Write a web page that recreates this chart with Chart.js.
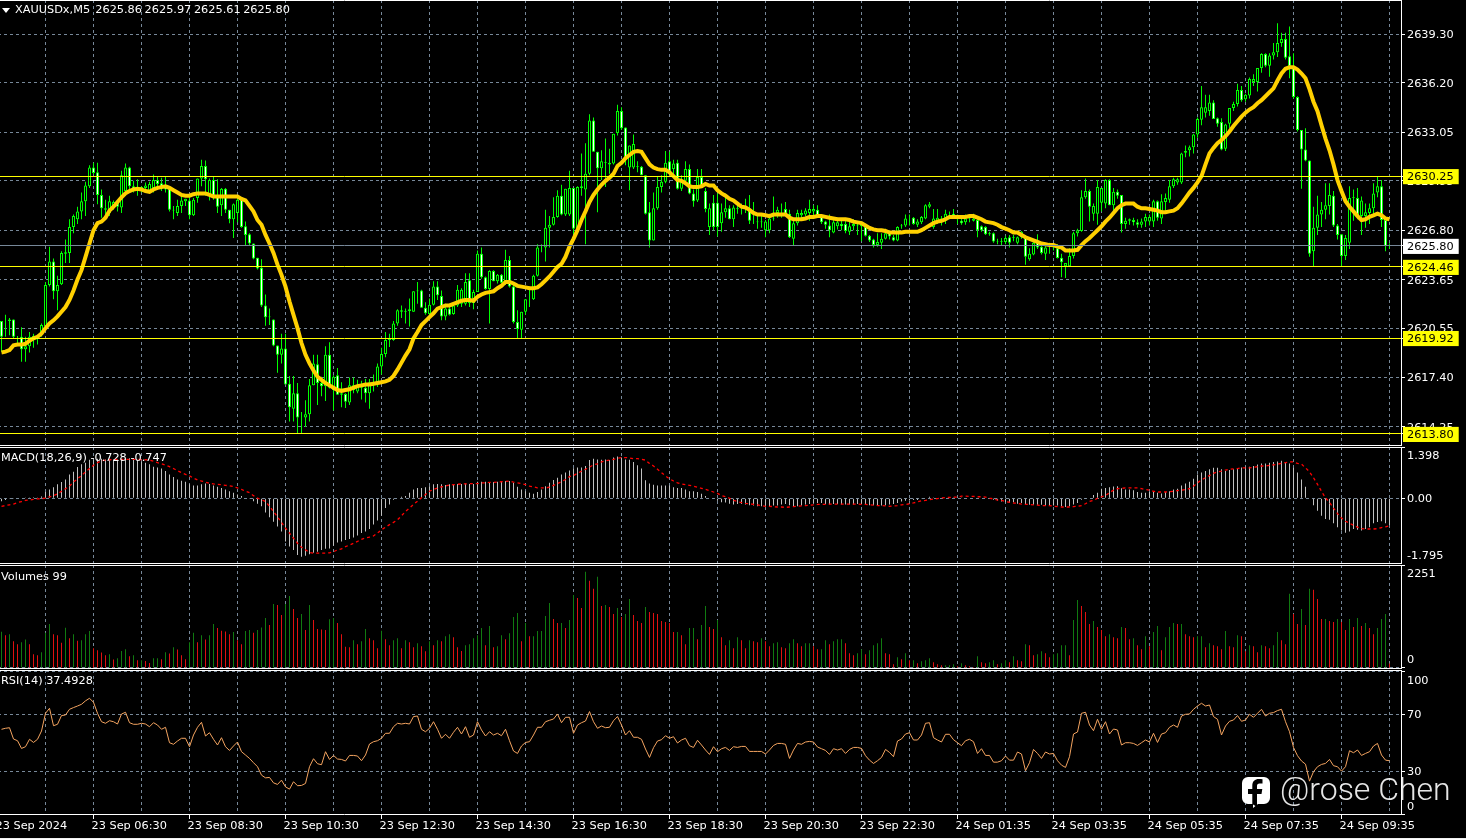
<!DOCTYPE html>
<html>
<head>
<meta charset="utf-8">
<title>XAUUSDx,M5</title>
<script src="https://cdn.jsdelivr.net/npm/chart.js@4/dist/chart.umd.js"></script>
<style>
html, body { margin: 0; padding: 0; background: #000; overflow: hidden; }
body { width: 1466px; height: 839px; position: relative; }
canvas { position: absolute; left: -8px; }
.txt { position: absolute; color: #fff; font: 11.3px "DejaVu Sans", sans-serif; white-space: pre; line-height: 14px; }
#tri { position: absolute; left: 2px; top: 8px; width: 0; height: 0; border-left: 4px solid transparent; border-right: 4px solid transparent; border-top: 5px solid #fff; }
#mark { position: absolute; left: 1280px; top: 770px; color: rgba(255,255,255,.9); font: 300 32px Roboto, sans-serif; white-space: pre; }
#fb { position: absolute; left: 1241px; top: 776px; }
#edge { position: absolute; left: 0; top: 838px; width: 1466px; height: 1px; background: #f0f0f0; }
</style>
</head>
<body>
<canvas id="cMain" width="1474" height="446" style="top:0"></canvas>
<canvas id="cMacd" width="1474" height="117" style="top:447px"></canvas>
<canvas id="cVol" width="1474" height="104" style="top:565px"></canvas>
<canvas id="cRsi" width="1474" height="169" style="top:670px"></canvas>
<div id="tri"></div>
<div class="txt" style="left:15px;top:3px;word-spacing:-1px">XAUUSDx,M5  2625.86 2625.97 2625.61 2625.80</div>
<div class="txt" style="left:1px;top:451px">MACD(18,26,9) -0.728 -0.747</div>
<div class="txt" style="left:1px;top:570px">Volumes 99</div>
<div class="txt" style="left:1px;top:674px">RSI(14) 37.4928</div>
<svg id="fb" width="30" height="32" viewBox="0 0 30 32">
<path fill="#fff" d="M7 1h16a6 6 0 0 1 6 6v15a6 6 0 0 1-6 6h-6l-5 4v-4H7a6 6 0 0 1-6-6V7a6 6 0 0 1 6-6z"/>
<path fill="#000" d="M16 31V18h4.5l.8-5H16v-3c0-1.500.7-2.500 2.600-2.500H21.500V3.300C20.500 3.100 19 3 17.800 3 14 3 11.300 5.200 11.300 9.500V13H7v5h4.300v10z"/>
</svg>
<div id="mark">@rose Chen</div>
<div id="edge"></div>

<script>
// candles, one row = 12 bars = 1 hour
var opens = [
2621.0,2621.0,2621.0,2621.1,2620.0,2620.0,2619.2,2619.4,2619.8,2620.0,2620.2,2620.65,
2623.3,2624.8,2622.9,2623.35,2625.3,2625.35,2627.0,2627.5,2628.0,2628.65,2629.6,2630.8,
2630.5,2629.05,2628.2,2627.9,2628.25,2628.6,2628.25,2629.3,2630.8,2629.6,2629.4,2629.4,
2629.5,2629.3,2629.5,2630.0,2629.8,2629.65,2629.5,2628.1,2627.9,2628.35,2628.65,2628.7,
2627.75,2628.85,2630.1,2630.9,2629.0,2630.0,2629.0,2628.4,2629.45,2628.1,2627.5,2627.9,
2628.75,2627.05,2626.55,2625.95,2625.05,2624.4,2622.0,2621.25,2621.1,2619.45,2618.85,2619.25,
2617.0,2615.4,2616.4,2614.85,2614.85,2615.05,2616.9,2618.25,2617.05,2616.85,2618.85,2616.6,
2617.55,2616.4,2616.35,2615.8,2616.6,2616.5,2616.9,2616.75,2616.4,2617.1,2617.0,2618.1,
2618.9,2619.8,2619.8,2620.85,2621.7,2621.6,2621.65,2621.6,2622.9,2622.95,2621.85,2621.45,
2622.05,2623.2,2622.6,2621.3,2621.8,2621.45,2622.0,2622.1,2622.1,2623.6,2622.15,2622.85,
2625.3,2623.8,2623.05,2624.2,2623.55,2623.95,2623.45,2624.9,2623.2,2620.95,2620.45,2621.6,
2622.4,2622.4,2623.9,2625.7,2625.7,2626.95,2627.15,2627.65,2629.0,2627.8,2627.8,2629.5,
2626.9,2629.5,2629.4,2630.4,2633.8,2631.8,2630.75,2631.1,2631.1,2631.05,2633.0,2634.4,
2633.35,2630.8,2630.8,2630.85,2630.85,2630.3,2627.95,2626.15,2628.2,2629.55,2629.9,2631.2,
2630.7,2631.1,2629.45,2629.95,2630.7,2629.15,2628.7,2630.2,2629.3,2627.0,2628.55,2628.55,
2627.25,2627.95,2628.2,2627.5,2628.15,2628.15,2628.2,2628.05,2627.4,2627.35,2627.3,2626.8,
2626.8,2627.55,2627.9,2628.0,2628.15,2627.85,2626.25,2627.25,2627.75,2627.8,2627.9,2628.0,
2628.1,2627.75,2627.35,2627.1,2626.65,2627.05,2627.2,2627.2,2626.7,2627.05,2627.1,2627.05,
2627.0,2626.45,2626.2,2625.85,2626.0,2626.25,2626.6,2626.35,2626.15,2627.05,2627.1,2627.55,
2627.6,2627.15,2627.3,2627.55,2628.3,2627.0,2627.4,2627.45,2627.45,2627.85,2627.85,2627.5,
2627.4,2627.3,2627.55,2627.4,2627.45,2627.05,2627.0,2626.55,2626.6,2626.08,2626.05,2626.05,
2626.35,2626.3,2626.0,2626.35,2626.3,2624.95,2625.25,2626.0,2625.75,2625.3,2625.7,2625.7,
2625.65,2625.05,2624.5,2624.5,2625.15,2626.6,2626.75,2628.9,2629.3,2627.85,2627.85,2628.55,
2628.5,2630.0,2628.4,2629.25,2629.05,2627.2,2627.4,2627.45,2627.3,2627.15,2627.35,2627.35,
2627.35,2628.65,2627.55,2628.6,2628.75,2629.6,2629.85,2629.85,2631.75,2631.9,2632.1,2632.9,
2633.85,2634.3,2634.4,2634.95,2633.95,2633.7,2632.0,2633.6,2634.6,2634.85,2635.75,2635.15,
2635.4,2636.25,2636.25,2637.15,2638.05,2637.3,2637.95,2638.15,2638.75,2639.0,2637.9,2637.25,
2635.3,2633.2,2631.95,2631.25,2625.45,2626.95,2627.8,2628.1,2628.35,2629.0,2627.1,2626.55,
2625.15,2626.0,2628.85,2628.85,2627.7,2627.7,2627.9,2628.2,2629.2,2629.6,2627.45,2625.86];
var highs = [
2621.0,2621.4,2621.2,2621.1,2620.05,2620.6,2620.0,2620.3,2620.2,2620.1,2620.85,2623.5,
2625.75,2625.0,2623.9,2625.45,2626.2,2627.5,2627.8,2628.3,2629.2,2629.9,2630.95,2631.1,
2631.1,2629.4,2628.75,2629.0,2628.7,2628.7,2630.6,2631.05,2630.85,2629.95,2630.05,2629.6,
2629.85,2629.9,2630.35,2630.25,2630.15,2630.25,2629.5,2628.35,2628.75,2629.0,2628.8,2629.0,
2628.85,2630.1,2631.3,2631.25,2630.1,2630.25,2630.05,2629.5,2629.5,2628.1,2628.5,2628.9,
2628.9,2627.35,2626.6,2625.95,2625.05,2624.95,2622.7,2621.8,2621.1,2619.45,2620.2,2620.2,
2617.5,2617.5,2617.05,2615.2,2615.95,2617.3,2618.85,2618.85,2617.45,2619.4,2619.65,2617.55,
2618.0,2617.1,2616.4,2617.4,2617.4,2617.25,2617.2,2617.3,2617.3,2617.6,2618.3,2619.3,
2620.3,2620.2,2621.0,2621.75,2622.0,2621.8,2622.45,2622.9,2623.5,2623.0,2622.2,2622.45,
2623.55,2623.55,2622.95,2622.1,2622.0,2622.1,2623.3,2623.1,2624.05,2624.05,2623.0,2625.5,
2625.7,2623.85,2624.25,2624.25,2624.0,2624.0,2625.55,2625.15,2623.4,2621.7,2621.6,2622.4,
2623.2,2623.95,2625.9,2625.9,2628.1,2627.7,2628.9,2629.35,2629.7,2629.45,2630.6,2629.5,
2629.6,2631.7,2632.35,2634.2,2634.0,2631.8,2631.9,2632.65,2632.0,2632.95,2634.8,2634.65,
2633.35,2632.2,2632.9,2631.2,2630.9,2630.3,2628.6,2629.2,2630.25,2630.3,2631.85,2631.8,
2631.3,2631.3,2630.3,2631.2,2631.0,2629.4,2630.7,2630.7,2629.5,2628.5,2629.05,2629.15,
2628.5,2629.15,2628.4,2628.4,2628.6,2628.5,2628.8,2629.05,2628.6,2627.8,2627.7,2627.45,
2627.85,2628.95,2628.3,2628.5,2628.6,2628.1,2627.55,2628.1,2628.1,2628.2,2628.75,2628.4,
2628.4,2627.8,2627.4,2627.8,2627.55,2627.6,2627.5,2627.4,2627.4,2627.5,2627.3,2627.35,
2627.1,2626.5,2626.25,2626.6,2626.6,2626.9,2626.8,2626.5,2627.05,2627.2,2627.8,2627.8,
2627.65,2627.5,2627.7,2628.45,2628.6,2628.15,2628.15,2627.7,2628.1,2628.0,2628.15,2627.8,
2627.6,2627.8,2627.7,2627.85,2627.55,2627.1,2627.05,2626.7,2626.65,2626.25,2626.3,2626.45,
2626.5,2626.5,2626.4,2626.75,2626.35,2625.65,2626.1,2626.55,2625.85,2625.95,2626.0,2625.9,
2625.9,2625.3,2624.7,2625.65,2626.7,2626.9,2629.35,2630.1,2629.4,2628.5,2630.0,2629.5,
2630.05,2630.05,2629.5,2629.4,2629.05,2627.6,2627.55,2627.6,2627.5,2627.55,2627.85,2627.8,
2628.75,2628.7,2629.1,2629.15,2630.0,2630.15,2630.15,2631.75,2632.2,2632.2,2632.95,2634.0,
2636.0,2635.45,2635.45,2635.1,2634.0,2633.95,2633.6,2634.6,2635.0,2636.15,2636.0,2635.5,
2636.55,2636.75,2637.15,2638.1,2638.1,2638.1,2638.75,2640.0,2639.4,2639.4,2639.8,2638.1,
2635.35,2633.2,2633.3,2631.25,2628.3,2629.0,2628.6,2629.8,2629.8,2629.3,2627.2,2626.55,
2626.5,2629.6,2629.4,2629.5,2628.95,2628.5,2628.5,2629.8,2630.25,2630.0,2627.45,2625.97];
var lows = [
2619.05,2620.0,2620.1,2619.9,2619.5,2618.4,2618.4,2619.0,2619.3,2619.5,2620.0,2620.65,
2623.2,2622.4,2621.7,2623.3,2624.7,2624.7,2626.6,2627.2,2627.5,2627.7,2629.5,2630.35,
2628.45,2627.6,2627.5,2627.7,2628.1,2628.0,2627.9,2629.0,2629.4,2629.2,2629.0,2629.2,
2629.2,2629.2,2629.2,2629.4,2629.3,2629.2,2628.0,2627.5,2627.7,2627.9,2628.35,2627.5,
2627.7,2628.55,2629.6,2629.0,2628.7,2628.75,2627.9,2627.7,2627.9,2627.25,2626.3,2627.3,
2626.95,2625.8,2625.85,2624.95,2624.3,2621.9,2620.7,2620.75,2619.4,2617.7,2618.3,2616.95,
2614.6,2614.6,2613.85,2613.85,2614.25,2614.6,2616.9,2615.65,2616.2,2615.9,2616.7,2615.3,
2616.3,2615.5,2615.45,2615.65,2616.4,2616.4,2616.0,2615.8,2615.4,2616.5,2616.8,2617.6,
2618.7,2619.35,2619.75,2620.7,2621.2,2620.85,2620.65,2621.6,2622.1,2621.85,2621.4,2621.4,
2622.0,2622.35,2621.05,2621.05,2621.35,2621.4,2621.9,2621.9,2622.0,2621.9,2621.75,2622.85,
2623.7,2623.0,2620.85,2623.55,2623.4,2623.4,2623.3,2623.15,2620.85,2619.9,2619.9,2621.4,
2621.9,2622.35,2623.85,2625.4,2624.8,2625.7,2627.1,2627.6,2627.75,2627.7,2627.7,2626.55,
2626.8,2629.0,2625.9,2630.3,2631.8,2627.95,2630.0,2629.55,2630.4,2631.0,2632.85,2633.2,
2630.95,2629.35,2630.7,2630.5,2630.3,2627.8,2625.7,2626.15,2628.1,2629.2,2629.8,2630.3,
2630.3,2629.4,2629.3,2629.8,2629.1,2628.3,2628.6,2629.5,2627.95,2626.5,2626.8,2626.4,
2626.7,2627.6,2627.5,2627.0,2627.85,2627.8,2627.9,2627.2,2627.2,2626.9,2626.95,2626.35,
2626.6,2627.4,2627.6,2627.6,2627.7,2626.3,2625.85,2627.1,2627.4,2627.7,2627.4,2627.7,
2627.6,2627.2,2626.9,2626.35,2626.6,2626.85,2626.8,2626.6,2626.5,2626.8,2626.5,2626.1,
2626.4,2626.05,2625.7,2625.75,2625.6,2626.2,2626.2,2626.1,2626.1,2626.9,2627.0,2627.1,
2627.15,2627.0,2627.2,2627.5,2628.2,2626.9,2627.2,2627.1,2627.2,2627.5,2627.55,2627.2,
2627.15,2627.15,2627.3,2627.35,2626.35,2626.7,2626.5,2626.45,2626.0,2625.9,2625.85,2625.9,
2625.7,2626.1,2625.9,2626.25,2624.6,2624.85,2625.2,2625.6,2625.25,2624.9,2625.3,2625.5,
2625.0,2623.8,2623.75,2624.45,2625.0,2626.4,2626.7,2628.8,2627.35,2627.4,2627.15,2628.0,
2628.2,2628.4,2627.9,2628.8,2626.65,2626.9,2627.15,2627.1,2626.95,2626.95,2627.0,2627.1,
2627.0,2627.4,2627.2,2628.0,2628.55,2629.5,2629.7,2629.75,2631.45,2631.5,2631.7,2632.7,
2633.5,2634.0,2634.1,2633.9,2633.4,2631.9,2631.85,2633.3,2634.4,2634.7,2635.0,2635.0,
2635.2,2636.0,2635.65,2636.85,2637.2,2636.6,2637.7,2637.85,2638.5,2637.7,2636.5,2635.2,
2633.1,2629.45,2631.2,2625.1,2624.5,2626.5,2627.0,2627.5,2627.8,2627.0,2626.2,2624.5,
2624.9,2625.6,2627.4,2627.5,2626.5,2626.95,2627.2,2627.7,2628.9,2627.0,2625.45,2625.61];
var closes = [
2620.0,2621.0,2621.1,2620.0,2620.0,2619.2,2619.4,2620.0,2620.05,2620.0,2620.75,2623.3,
2624.8,2622.9,2623.3,2625.35,2625.4,2627.0,2627.7,2628.0,2628.65,2629.65,2630.8,2630.45,
2629.05,2628.2,2628.1,2628.65,2628.6,2628.3,2630.3,2630.8,2629.6,2629.45,2629.4,2629.55,
2629.65,2629.75,2630.0,2629.75,2629.5,2629.4,2628.1,2628.05,2628.35,2628.7,2628.8,2627.75,
2628.75,2630.1,2630.9,2630.05,2630.0,2629.0,2628.3,2629.45,2628.1,2627.5,2628.45,2628.75,
2627.0,2626.5,2625.95,2625.0,2624.35,2622.0,2621.25,2621.3,2619.45,2618.85,2619.25,2616.95,
2615.5,2616.4,2614.85,2614.85,2615.05,2616.9,2618.3,2617.05,2616.85,2618.85,2616.75,2617.45,
2616.3,2616.3,2615.85,2616.9,2616.9,2616.9,2616.75,2616.4,2617.1,2617.0,2618.1,2618.9,
2619.8,2619.85,2620.85,2621.7,2621.6,2621.65,2621.75,2622.9,2622.95,2621.85,2621.5,2622.05,
2623.2,2622.65,2621.3,2621.8,2621.4,2622.0,2623.0,2623.0,2623.5,2622.15,2622.85,2625.3,
2623.8,2623.05,2624.2,2623.55,2623.95,2623.45,2624.9,2623.2,2620.95,2620.5,2621.6,2622.4,
2622.4,2623.9,2625.7,2625.7,2626.95,2627.15,2627.65,2629.0,2627.8,2629.45,2629.5,2626.9,
2629.55,2629.6,2630.4,2633.8,2631.8,2630.75,2631.2,2631.15,2631.0,2632.95,2634.4,2633.3,
2631.4,2632.2,2632.3,2630.9,2630.3,2627.85,2626.15,2628.2,2629.55,2629.9,2631.1,2630.4,
2631.05,2629.45,2629.95,2630.7,2629.15,2628.65,2630.2,2629.55,2628.15,2628.2,2627.0,2627.0,
2627.95,2628.2,2627.5,2628.25,2628.2,2628.15,2628.3,2627.4,2627.4,2627.3,2627.35,2627.35,
2627.55,2627.6,2628.1,2628.0,2627.85,2626.35,2627.25,2627.9,2627.9,2628.05,2628.15,2628.15,
2627.75,2627.3,2627.15,2626.8,2627.3,2627.3,2627.05,2626.75,2627.05,2627.2,2627.15,2627.2,
2626.45,2626.15,2625.85,2626.05,2626.25,2626.6,2626.4,2626.15,2627.0,2627.1,2627.55,2627.55,
2627.2,2627.35,2627.65,2628.4,2628.45,2627.55,2627.6,2627.55,2627.85,2627.85,2627.7,2627.65,
2627.25,2627.55,2627.6,2627.55,2626.8,2626.8,2626.55,2626.6,2626.08,2626.05,2626.1,2626.3,
2626.0,2626.35,2626.35,2626.7,2625.1,2625.3,2626.0,2625.7,2625.35,2625.7,2625.7,2625.75,
2625.03,2624.75,2624.7,2625.15,2626.6,2626.8,2628.9,2629.3,2628.3,2628.35,2629.55,2629.5,
2630.0,2628.4,2629.25,2629.0,2627.2,2627.4,2627.5,2627.3,2627.15,2627.35,2627.65,2627.65,
2628.65,2627.6,2628.65,2628.85,2629.6,2630.05,2630.05,2631.7,2631.85,2632.1,2632.9,2633.9,
2634.65,2634.65,2634.95,2633.9,2633.6,2631.95,2633.55,2634.6,2634.85,2635.75,2635.1,2635.45,
2636.45,2636.45,2637.15,2638.05,2637.3,2637.95,2638.15,2638.75,2639.0,2637.8,2637.25,2635.3,
2633.2,2631.95,2631.25,2625.3,2626.95,2627.8,2628.1,2628.4,2629.05,2627.1,2626.5,2625.15,
2626.3,2628.85,2628.9,2627.7,2628.7,2627.95,2628.2,2629.15,2629.6,2627.45,2625.8,2625.80];
// gold moving average
var maLine = [
2619.0,2619.05,2619.15,2619.45,2619.5,2619.5,2619.55,2619.75,2619.9,2620.0,2620.2,2620.55,
2620.85,2621.05,2621.3,2621.6,2621.9,2622.35,2622.95,2623.65,2624.25,2625.1,2625.95,2626.8,
2627.25,2627.35,2627.6,2628.05,2628.3,2628.6,2628.9,2629.15,2629.3,2629.4,2629.45,2629.4,
2629.3,2629.25,2629.4,2629.5,2629.55,2629.6,2629.5,2629.35,2629.2,2629.05,2629.0,2629.0,
2629.1,2629.15,2629.15,2629.15,2629.05,2628.95,2628.95,2628.95,2628.95,2628.95,2628.95,2628.95,
2628.8,2628.7,2628.35,2628.0,2627.45,2627.15,2626.5,2625.95,2625.35,2624.6,2623.95,2623.2,
2622.25,2621.4,2620.55,2619.6,2618.85,2618.3,2617.85,2617.45,2617.25,2617.05,2616.9,2616.75,
2616.6,2616.55,2616.6,2616.65,2616.75,2616.85,2616.9,2616.95,2616.95,2617.0,2617.05,2617.1,
2617.15,2617.25,2617.5,2617.9,2618.35,2618.8,2619.2,2619.9,2620.3,2620.75,2621.0,2621.25,
2621.5,2621.8,2621.9,2622.0,2622.0,2622.1,2622.2,2622.3,2622.35,2622.35,2622.3,2622.55,
2622.7,2622.8,2622.85,2622.9,2623.1,2623.25,2623.5,2623.5,2623.4,2623.25,2623.2,2623.15,
2623.1,2623.1,2623.15,2623.35,2623.6,2623.85,2624.15,2624.45,2624.65,2625.1,2625.75,2626.25,
2626.8,2627.45,2628.0,2628.6,2629.05,2629.4,2629.7,2629.95,2630.15,2630.4,2630.9,2631.1,
2631.4,2631.6,2631.8,2631.85,2631.8,2631.4,2631.0,2630.8,2630.7,2630.65,2630.65,2630.5,
2630.25,2630.0,2629.95,2629.8,2629.6,2629.55,2629.55,2629.6,2629.75,2629.65,2629.65,2629.35,
2629.15,2629.0,2628.8,2628.7,2628.5,2628.3,2628.25,2628.1,2627.9,2627.8,2627.8,2627.75,
2627.7,2627.8,2627.8,2627.8,2627.8,2627.6,2627.5,2627.5,2627.5,2627.55,2627.65,2627.65,
2627.7,2627.7,2627.65,2627.6,2627.55,2627.5,2627.5,2627.5,2627.45,2627.35,2627.3,2627.25,
2627.1,2626.95,2626.85,2626.8,2626.8,2626.75,2626.65,2626.65,2626.65,2626.65,2626.7,2626.7,
2626.7,2626.7,2626.8,2626.95,2627.1,2627.25,2627.35,2627.4,2627.5,2627.65,2627.65,2627.65,
2627.65,2627.65,2627.7,2627.7,2627.6,2627.5,2627.35,2627.3,2627.25,2627.15,2627.0,2626.9,
2626.8,2626.65,2626.65,2626.5,2626.35,2626.25,2626.15,2626.05,2625.95,2625.9,2625.85,2625.85,
2625.75,2625.7,2625.5,2625.5,2625.5,2625.55,2625.85,2626.1,2626.3,2626.55,2626.8,2627.05,
2627.35,2627.6,2627.9,2628.2,2628.4,2628.5,2628.5,2628.5,2628.3,2628.2,2628.2,2628.15,
2628.1,2628.05,2627.95,2627.95,2628.0,2628.05,2628.2,2628.5,2628.85,2629.2,2629.5,2629.85,
2630.25,2631.0,2631.7,2632.05,2632.35,2632.55,2632.8,2633.1,2633.45,2633.75,2634.05,2634.3,
2634.5,2634.65,2634.9,2635.1,2635.35,2635.6,2635.85,2636.35,2636.8,2637.1,2637.2,2637.2,
2637.05,2636.8,2636.5,2635.8,2635.0,2634.4,2633.5,2632.65,2631.9,2631.0,2630.0,2629.3,
2628.65,2628.3,2628.0,2627.7,2627.45,2627.5,2627.65,2627.75,2627.85,2627.75,2627.55,2627.5];
// MACD histogram and signal
var macdHist = [
-0.08,-0.05,-0.02,-0.01,0.01,0.01,0.02,0.02,0.03,0.02,0.05,0.17,
0.24,0.30,0.38,0.44,0.51,0.65,0.72,0.85,0.93,0.97,1.05,1.06,
1.08,1.08,1.06,1.05,1.06,1.06,1.06,1.08,1.09,1.06,1.05,1.00,
0.97,0.93,0.86,0.84,0.81,0.74,0.65,0.58,0.51,0.48,0.45,0.38,
0.35,0.35,0.38,0.40,0.39,0.35,0.31,0.28,0.24,0.19,0.15,0.10,
0.06,0.00,-0.02,-0.08,-0.15,-0.22,-0.39,-0.52,-0.64,-0.77,-0.91,-1.18,
-1.32,-1.41,-1.55,-1.60,-1.57,-1.53,-1.49,-1.46,-1.41,-1.38,-1.37,-1.30,
-1.21,-1.18,-1.14,-1.11,-1.07,-1.02,-0.95,-0.91,-0.84,-0.72,-0.61,-0.48,
-0.27,-0.17,-0.04,0.00,0.04,0.06,0.15,0.24,0.28,0.28,0.30,0.33,
0.38,0.39,0.38,0.36,0.38,0.39,0.39,0.39,0.40,0.39,0.39,0.45,
0.45,0.45,0.44,0.44,0.45,0.45,0.47,0.47,0.42,0.31,0.24,0.19,
0.15,0.12,0.17,0.24,0.33,0.42,0.50,0.56,0.65,0.70,0.76,0.82,
0.84,0.84,0.88,1.04,1.08,1.06,1.05,1.06,1.04,1.11,1.14,1.11,
1.06,1.05,0.99,0.90,0.81,0.49,0.40,0.37,0.35,0.35,0.35,0.35,
0.30,0.28,0.28,0.24,0.19,0.19,0.17,0.12,0.06,0.01,-0.02,-0.07,
-0.11,-0.12,-0.15,-0.17,-0.16,-0.16,-0.17,-0.19,-0.20,-0.22,-0.22,-0.24,
-0.22,-0.20,-0.20,-0.17,-0.16,-0.19,-0.22,-0.22,-0.20,-0.17,-0.16,-0.13,
-0.13,-0.13,-0.16,-0.17,-0.16,-0.16,-0.17,-0.17,-0.17,-0.17,-0.16,-0.16,
-0.17,-0.19,-0.19,-0.19,-0.20,-0.19,-0.17,-0.16,-0.13,-0.09,-0.07,-0.06,
-0.05,-0.05,-0.01,0.01,0.04,0.02,0.01,0.00,0.00,0.01,0.02,0.02,
0.02,0.01,0.01,0.00,0.00,0.00,0.00,-0.02,-0.04,-0.06,-0.09,-0.11,
-0.13,-0.11,-0.15,-0.13,-0.17,-0.18,-0.18,-0.18,-0.18,-0.20,-0.20,-0.20,
-0.20,-0.22,-0.24,-0.22,-0.17,-0.13,-0.04,-0.01,0.01,0.09,0.15,0.26,
0.28,0.30,0.32,0.33,0.27,0.24,0.24,0.22,0.17,0.15,0.15,0.17,
0.19,0.15,0.13,0.17,0.19,0.24,0.26,0.35,0.40,0.45,0.53,0.65,
0.70,0.74,0.79,0.83,0.83,0.79,0.74,0.77,0.79,0.82,0.84,0.86,
0.86,0.88,0.92,0.95,0.95,0.97,0.99,1.00,1.02,0.99,0.95,0.83,
0.70,0.51,0.31,0.01,-0.19,-0.34,-0.48,-0.57,-0.59,-0.68,-0.79,-0.88,
-0.94,-0.91,-0.84,-0.86,-0.88,-0.84,-0.79,-0.68,-0.65,-0.63,-0.68,-0.728];
var macdSignal = [
-0.22,-0.20,-0.18,-0.16,-0.12,-0.09,-0.06,-0.05,-0.03,-0.02,-0.01,0.00,
0.04,0.07,0.12,0.19,0.26,0.33,0.44,0.53,0.62,0.72,0.81,0.90,
0.97,1.02,1.04,1.05,1.06,1.06,1.06,1.06,1.06,1.06,1.06,1.05,
1.05,1.04,1.01,0.97,0.94,0.90,0.86,0.81,0.75,0.70,0.65,0.61,
0.55,0.50,0.47,0.44,0.41,0.39,0.38,0.37,0.35,0.34,0.32,0.28,
0.24,0.19,0.15,0.07,0.00,-0.04,-0.09,-0.22,-0.36,-0.51,-0.66,-0.82,
-0.95,-1.09,-1.23,-1.34,-1.41,-1.48,-1.50,-1.50,-1.50,-1.50,-1.49,-1.46,
-1.41,-1.38,-1.32,-1.28,-1.23,-1.18,-1.12,-1.08,-1.06,-1.03,-0.95,-0.86,
-0.79,-0.72,-0.66,-0.59,-0.48,-0.36,-0.27,-0.17,-0.08,0.01,0.10,0.19,
0.24,0.28,0.31,0.33,0.36,0.37,0.38,0.39,0.39,0.40,0.40,0.40,
0.42,0.42,0.43,0.43,0.44,0.45,0.46,0.47,0.44,0.42,0.40,0.37,
0.33,0.31,0.28,0.28,0.28,0.30,0.35,0.40,0.45,0.51,0.59,0.62,
0.68,0.74,0.79,0.85,0.91,0.94,0.99,1.02,1.04,1.06,1.09,1.11,
1.11,1.10,1.08,1.08,1.06,1.04,0.95,0.88,0.79,0.70,0.61,0.53,
0.47,0.42,0.39,0.37,0.35,0.33,0.30,0.27,0.24,0.21,0.17,0.13,
0.07,0.04,0.00,-0.06,-0.09,-0.12,-0.14,-0.15,-0.17,-0.18,-0.20,-0.22,
-0.22,-0.23,-0.24,-0.24,-0.25,-0.24,-0.23,-0.22,-0.21,-0.20,-0.19,-0.18,
-0.17,-0.17,-0.17,-0.16,-0.16,-0.16,-0.16,-0.16,-0.16,-0.16,-0.16,-0.17,
-0.17,-0.18,-0.19,-0.20,-0.20,-0.21,-0.22,-0.21,-0.20,-0.18,-0.17,-0.15,
-0.13,-0.10,-0.07,-0.06,-0.04,-0.02,-0.01,0.01,0.02,0.02,0.03,0.03,
0.06,0.06,0.05,0.05,0.04,0.04,0.03,0.00,-0.02,-0.05,-0.06,-0.09,
-0.11,-0.13,-0.14,-0.16,-0.17,-0.17,-0.18,-0.19,-0.20,-0.20,-0.20,-0.22,
-0.23,-0.24,-0.24,-0.24,-0.23,-0.22,-0.20,-0.15,-0.09,-0.06,0.00,0.04,
0.07,0.15,0.22,0.26,0.27,0.28,0.28,0.28,0.28,0.26,0.24,0.22,
0.19,0.17,0.17,0.17,0.18,0.19,0.21,0.22,0.24,0.26,0.33,0.42,
0.50,0.56,0.62,0.68,0.72,0.74,0.77,0.79,0.80,0.81,0.83,0.83,
0.83,0.84,0.86,0.88,0.88,0.90,0.91,0.93,0.95,0.97,0.99,0.99,
0.95,0.93,0.83,0.72,0.56,0.38,0.19,0.01,-0.11,-0.27,-0.42,-0.54,
-0.63,-0.68,-0.74,-0.79,-0.83,-0.84,-0.84,-0.84,-0.83,-0.80,-0.78,-0.747];
var volumes = [
792,718,740,586,520,564,623,520,300,279,345,770,
960,740,718,550,880,652,740,594,608,740,806,432,
388,337,279,300,183,213,374,410,257,279,169,169,
154,110,213,213,191,345,315,454,403,279,191,564,
770,564,718,623,718,960,872,814,799,740,784,608,
520,806,828,770,828,887,1092,938,1400,1378,1158,1400,
1576,1290,1092,1180,828,1378,1048,850,843,828,1063,1092,
982,740,462,454,608,520,586,850,652,608,432,814,
630,498,608,652,432,608,564,454,542,476,366,586,
498,608,586,696,740,674,454,374,498,520,652,718,
872,498,916,454,476,718,630,762,1114,1202,586,982,
696,696,806,806,1136,1422,1070,982,982,872,1048,1598,
1532,1312,2104,1906,1730,1994,1356,1378,1334,1180,1312,1114,
1180,1510,1158,1026,982,1334,1224,1202,1180,1026,1004,982,
784,784,718,520,872,872,630,938,1356,894,850,1048,
674,498,608,432,674,608,432,608,586,564,652,586,
476,542,564,454,432,542,630,542,476,542,542,476,
410,410,608,520,586,630,630,542,322,279,322,410,
300,388,498,542,652,322,300,81,235,191,322,169,
169,103,147,169,213,125,81,59,59,59,81,37,
103,59,37,22,257,125,103,125,169,81,103,169,
125,257,169,147,520,498,279,300,366,322,235,300,
322,498,498,279,1048,1488,1356,1224,960,1026,894,828,
696,740,674,652,894,872,630,652,498,410,696,476,
784,916,388,674,894,982,960,960,740,696,674,696,
696,454,542,498,476,410,806,476,454,718,696,366,
498,476,345,498,476,432,498,784,608,520,1620,1180,
960,1290,938,1730,1708,1510,1070,1070,1026,1004,1070,1004,
828,1070,894,1092,916,982,872,740,872,1070,1180,99];
var rsiValues = [
59.5,60.2,60.6,52.7,51.5,46.1,47.3,52.5,50.3,52.5,58.3,70.7,
74.2,62.0,63.0,69.1,69.5,73.5,74.7,75.8,77.0,79.4,81.2,78.4,
70.7,64.8,63.7,65.5,64.8,63.2,70.2,71.4,64.1,63.0,63.0,63.7,
63.2,61.3,64.1,62.5,59.5,60.9,50.1,49.0,51.3,53.2,53.2,47.3,
55.5,60.9,64.4,54.8,57.1,52.5,48.5,53.6,47.3,44.7,47.8,50.6,
43.8,41.5,39.1,36.1,33.3,27.4,25.5,25.8,22.0,20.9,23.9,19.2,
17.6,22.8,20.0,20.2,21.6,33.3,38.9,35.4,34.7,43.8,38.4,41.2,
38.7,38.4,37.3,41.2,41.2,40.8,37.5,41.5,49.2,50.8,51.5,53.2,
56.7,56.7,61.3,63.7,63.2,63.7,63.2,68.4,68.8,59.5,57.8,60.2,
64.8,59.5,53.2,56.0,53.2,57.4,60.9,56.2,61.3,53.9,55.5,64.8,
59.0,54.8,57.8,55.5,56.7,55.0,59.5,51.5,44.3,42.6,47.8,50.3,
50.8,55.5,60.9,60.9,64.8,65.8,66.7,70.2,64.1,67.9,67.9,56.7,
62.5,64.1,65.3,71.9,64.8,60.2,61.8,60.6,60.9,65.5,68.4,62.5,
55.5,58.5,53.9,53.9,52.5,45.7,39.8,46.6,51.3,52.2,55.0,53.2,
54.3,49.9,52.0,53.2,48.0,46.8,51.8,48.5,45.0,41.9,47.3,43.8,
45.9,46.8,44.7,47.3,46.8,47.5,47.5,44.0,44.0,44.0,44.0,42.2,
45.0,48.2,49.6,49.6,49.0,39.1,45.0,49.6,49.0,50.6,51.0,50.6,
47.1,45.9,44.7,41.9,45.9,45.0,45.9,42.6,45.4,46.8,46.8,46.1,
41.0,37.9,35.6,37.5,39.8,45.4,43.3,40.3,51.3,52.7,56.2,57.1,
52.0,52.0,55.5,63.7,64.1,53.6,52.0,50.6,56.0,56.0,52.2,50.1,
48.0,51.5,52.5,50.8,42.6,45.9,41.2,41.2,36.5,36.5,37.5,40.8,
37.9,37.9,43.6,42.2,30.5,36.1,45.4,42.6,39.1,43.6,42.2,42.6,
37.5,34.4,32.8,40.3,56.2,57.6,70.7,71.4,62.5,58.5,66.5,59.5,
64.8,56.2,59.7,59.0,48.5,50.1,50.1,49.6,48.2,50.1,52.0,50.6,
56.7,50.3,56.2,57.1,60.9,62.5,60.9,68.8,70.0,70.2,73.5,75.8,
77.7,75.8,76.5,68.4,66.5,55.5,61.8,65.1,66.0,69.1,65.1,66.0,
70.0,67.9,70.7,73.5,68.8,70.7,71.2,72.6,73.5,64.8,57.8,46.8,
41.0,37.3,35.1,23.2,29.8,33.3,34.9,35.6,38.4,34.0,33.3,30.2,
33.3,44.5,43.1,45.0,41.2,42.6,43.8,47.8,49.6,41.5,37.9,37.4928];

// axis labels
var priceTicks = [2639.30,2636.20,2633.05,2629.95,2626.80,2623.65,2620.55,2617.40,2614.25];
var yellowLevels = [2630.25,2624.46,2619.92,2613.80];
var lastPrice = 2625.80;
var macdTicks = [1.398,0,-1.795];
var volTicks = [2251,0];
var rsiTicks = [100,70,30,0];
var gridBars = [-1,11,23,35,47,59,71,83,95,107,119,131,143,155,167,179,191,203,215,227,239,251,263,275,287,299,311,323,335,347];
var timeBars = [-1,23,47,71,95,119,143,167,191,215,239,263,287,311,335];
var timeLabels = ["23 Sep 2024","23 Sep 06:30","23 Sep 08:30","23 Sep 10:30","23 Sep 12:30","23 Sep 14:30","23 Sep 16:30","23 Sep 18:30","23 Sep 20:30","23 Sep 22:30","24 Sep 01:35","24 Sep 03:35","24 Sep 05:35","24 Sep 07:35","24 Sep 09:35"];

var FONT = "DejaVu Sans";
var GRID = "#778899";
var GREEN = "#00ff00";

function pts(arr) { return arr.map(function (v, i) { return { x: i, y: v }; }); }

// top, bottom and right edge of each pane
var frame = {
  id: "frame",
  afterDraw: function (chart) {
    var c = chart.ctx, a = chart.chartArea;
    c.save();
    c.strokeStyle = "#fff";
    c.lineWidth = 1;
    c.beginPath();
    c.moveTo(0, a.top + 0.5); c.lineTo(a.right, a.top + 0.5);
    c.moveTo(0, a.bottom - 0.5); c.lineTo(a.right, a.bottom - 0.5);
    c.moveTo(a.right - 0.5, 0); c.lineTo(a.right - 0.5, a.bottom);
    c.stroke();
    c.restore();
  }
};

function xAxis(showTime) {
  return {
    type: "linear", min: -2.375, max: 350.125, offset: false,
    afterBuildTicks: function (s) { s.ticks = gridBars.map(function (v) { return { value: v }; }); },
    // labels may stick out, the plot area stays fixed
    afterFit: function (s) { s.height = showTime ? 24 : 0; s.paddingLeft = 0; s.paddingRight = 0; },
    border: { display: false, dash: [3, 3] },
    grid: {
      offset: false, color: GRID, lineWidth: 1, drawTicks: showTime, tickLength: 4,
      tickColor: function (ctx) { return ctx.tick && timeBars.indexOf(ctx.tick.value) >= 0 ? "#fff" : "transparent"; }
    },
    ticks: {
      display: showTime, autoSkip: false, maxRotation: 0, minRotation: 0, align: "start", color: "#fff", padding: 0, labelOffset: -2,
      font: { family: FONT, size: 11.3 },
      callback: function (v) { var k = timeBars.indexOf(v); return k >= 0 ? timeLabels[k] : ""; }
    }
  };
}

function yAxis(min, max, ticks, label, lineHeight) {
  return {
    position: "right", min: min, max: max,
    afterBuildTicks: function (s) { s.ticks = ticks.map(function (v) { return { value: v }; }); },
    afterFit: function (s) { s.width = 64; s.paddingTop = 0; s.paddingBottom = 0; },
    border: { display: false, dash: [3, 3] },
    grid: {
      color: function (ctx) { return ctx.tick && yellowLevels.concat(lastPrice).indexOf(ctx.tick.value) >= 0 ? "transparent" : GRID; },
      lineWidth: 1, tickLength: 3, tickColor: "#fff"
    },
    ticks: {
      autoSkip: false, padding: 2, labelOffset: 1, color: function (ctx) { return yellowLevels.concat(lastPrice).indexOf(ctx.tick.value) >= 0 ? "#000" : "#fff"; },
      font: { family: FONT, size: 11.3, lineHeight: lineHeight },
      showLabelBackdrop: function (ctx) { return yellowLevels.concat(lastPrice).indexOf(ctx.tick.value) >= 0; },
      backdropColor: function (ctx) { return ctx.tick.value === lastPrice ? "#fff" : "#ffff00"; },
      backdropPadding: { left: 4, right: 5, top: 1, bottom: 0 },
      callback: label
    }
  };
}

function pane(id, datasets, scales) {
  return new Chart(document.getElementById(id), {
    type: "bar",
    data: { datasets: datasets },
    options: {
      responsive: false, animation: false, devicePixelRatio: 1,
      layout: { padding: 0, autoPadding: false },
      plugins: { legend: { display: false }, tooltip: { enabled: false } },
      scales: scales
    },
    plugins: [frame]
  });
}

// price pane: wick, body, then the moving average on top
var mainScales = {
  x: xAxis(false),
  y: yAxis(2613.03, 2641.49, priceTicks.concat(yellowLevels, lastPrice), function (v) { return v.toFixed(2); }, 1.25),
  // second axis only for the solid horizontal lines, drawn over the candles
  yLevels: {
    axis: "y", position: "right", weight: -1, min: 2613.03, max: 2641.49,
    afterBuildTicks: function (s) { s.ticks = yellowLevels.concat(lastPrice).map(function (v) { return { value: v }; }); },
    afterFit: function (s) { s.width = 0; s.paddingTop = 0; s.paddingBottom = 0; },
    border: { display: false },
    grid: { z: 1, drawTicks: false, color: function (ctx) { return ctx.tick && ctx.tick.value === lastPrice ? GRID : "#ffff00"; } },
    ticks: { display: false }
  }
};
pane("cMain", [
  {
    type: "line", data: pts(maLine), borderColor: "#ffd000", borderWidth: 4, pointRadius: 0, tension: 0, order: 1
  },
  {
    data: opens.map(function (o, i) { return { x: i, y: [Math.min(o, closes[i]), Math.max(o, closes[i])] }; }),
    grouped: false, barThickness: 3, inflateAmount: 0, borderWidth: 1, borderSkipped: false, borderColor: GREEN, order: 2,
    backgroundColor: opens.map(function (o, i) { return closes[i] < o ? "#fff" : "#000"; })
  },
  {
    data: highs.map(function (h, i) { return { x: i, y: [lows[i], h] }; }),
    grouped: false, barThickness: 1, inflateAmount: 0, borderWidth: 0, backgroundColor: GREEN, order: 3
  }
], mainScales);

pane("cMacd", [
  { type: "line", data: pts(macdSignal), borderColor: "#ff0000", borderWidth: 1.3, borderDash: [3, 3], pointRadius: 0, tension: 0, order: 1 },
  { data: pts(macdHist), grouped: false, barThickness: 1, inflateAmount: 0, borderWidth: 0, backgroundColor: "#c0c0c0", order: 2 }
], {
  x: xAxis(false),
  y: yAxis(-1.795, 1.398, macdTicks, function (v) {
    if (v === 1.398) return ["", "1.398"];
    if (v === -1.795) return ["-1.795", ""];
    return "0.00";
  }, 1.5)
});

pane("cVol", [
  {
    data: pts(volumes), grouped: false, barThickness: 1, inflateAmount: 0, borderWidth: 0,
    // MT4 colours a volume bar by comparing it with the bar before
    backgroundColor: volumes.map(function (v, i) { return i > 0 && v < volumes[i - 1] ? "#e01010" : "#107a10"; })
  }
], {
  x: xAxis(false),
  y: yAxis(-22, 2251, volTicks, function (v) { return v === 2251 ? ["", "2251"] : ["0", ""]; }, 1.5)
});

pane("cRsi", [
  { type: "line", data: pts(rsiValues), borderColor: "#f4a460", borderWidth: 1, pointRadius: 0, tension: 0 }
], {
  x: xAxis(true),
  y: yAxis(-0.5, 101, rsiTicks, function (v) {
    if (v === 100) return ["", "100"];
    if (v === 0) return ["0", ""];
    return String(v);
  }, 1.5)
});
</script>
</body>
</html>
